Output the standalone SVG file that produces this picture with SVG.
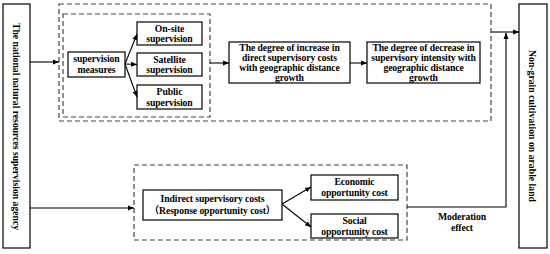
<svg xmlns="http://www.w3.org/2000/svg" width="550" height="254" viewBox="0 0 550 254">
<defs>
<marker id="ah" viewBox="0 0 6 6" refX="6" refY="3" markerWidth="6" markerHeight="6" markerUnits="userSpaceOnUse" orient="auto">
<path d="M0,0.5 L6,3 L0,5.5 Z" fill="#000"/>
</marker>
<style>
.box{fill:#fff;stroke:#000;stroke-width:1.2}
.dash{fill:none;stroke:#444;stroke-width:1.2;stroke-dasharray:5,3}
.ln{fill:none;stroke:#000;stroke-width:1.1;marker-end:url(#ah)}
text{font-family:"Liberation Serif","Noto Sans CJK SC",serif;font-weight:bold;font-size:9.7px;letter-spacing:-0.1px;fill:#000;text-anchor:middle}
.big{font-size:10px;letter-spacing:0}
</style>
</defs>
<rect width="550" height="254" fill="#fff"/>
<g id="containers">
<rect class="dash" x="59" y="4" width="432" height="117"/>
<rect class="dash" x="63" y="14" width="147" height="103"/>
<rect class="dash" x="134" y="165" width="273" height="75"/>
</g>
<g id="agency">
<rect class="box" x="3" y="4" width="27" height="244"/>
<text class="big" transform="translate(16.5,126.5) rotate(90)" dy="3.6" textLength="207" lengthAdjust="spacingAndGlyphs">The national natural resources supervision agency</text>
</g>
<g id="nongrain">
<rect class="box" x="519" y="4" width="28" height="244"/>
<text class="big" transform="translate(533,126) rotate(90)" dy="3.6" textLength="152" lengthAdjust="spacingAndGlyphs">Non-grain cultivation on arable land</text>
</g>
<g id="measures">
<rect class="box" x="68" y="52" width="57" height="25"/>
<text x="96.5" y="62">supervision</text>
<text x="96.5" y="73">measures</text>
</g>
<g id="onsite">
<rect class="box" x="137" y="22" width="65" height="23"/>
<text x="169.5" y="32">On-site</text>
<text x="169.5" y="42">supervision</text>
</g>
<g id="satellite">
<rect class="box" x="137" y="53" width="65" height="23"/>
<text x="169.5" y="63">Satellite</text>
<text x="169.5" y="73">supervision</text>
</g>
<g id="public">
<rect class="box" x="137" y="85" width="65" height="24"/>
<text x="169.5" y="95">Public</text>
<text x="169.5" y="106">supervision</text>
</g>
<g id="increase">
<rect class="box" x="229" y="42" width="121" height="41"/>
<text x="289.5" y="51">The degree of increase in</text>
<text x="289.5" y="61">direct supervisory costs</text>
<text x="289.5" y="71">with geographic distance</text>
<text x="289.5" y="81">growth</text>
</g>
<g id="decrease">
<rect class="box" x="367" y="42" width="113" height="41"/>
<text x="423.5" y="51">The degree of decrease in</text>
<text x="423.5" y="61">supervisory intensity with</text>
<text x="423.5" y="71">geographic distance</text>
<text x="423.5" y="81">growth</text>
</g>
<g id="indirect">
<rect class="box" x="143" y="190" width="139" height="30"/>
<text x="212.5" y="202">Indirect supervisory costs</text>
<text x="212.5" y="214">（Response opportunity cost）</text>
</g>
<g id="economic">
<rect class="box" x="311" y="175" width="87" height="25"/>
<text x="354.5" y="185">Economic</text>
<text x="354.5" y="196">opportunity cost</text>
</g>
<g id="social">
<rect class="box" x="311" y="214" width="87" height="24"/>
<text x="354.5" y="224">Social</text>
<text x="354.5" y="235">opportunity cost</text>
</g>
<g id="moderation-label">
<text x="462" y="220">Moderation</text>
<text x="462" y="231">effect</text>
</g>
<g id="connectors">
<line class="ln" x1="30" y1="62" x2="59" y2="62"/>
<line class="ln" x1="30" y1="208" x2="134" y2="208"/>
<line class="ln" x1="125" y1="64" x2="137" y2="34"/>
<line class="ln" x1="125" y1="64" x2="137" y2="64.5"/>
<line class="ln" x1="125" y1="64" x2="137" y2="97"/>
<line class="ln" x1="210" y1="63" x2="229" y2="63"/>
<line class="ln" x1="350" y1="63" x2="367" y2="63"/>
<line class="ln" x1="282" y1="204" x2="311" y2="187"/>
<line class="ln" x1="282" y1="204" x2="311" y2="227"/>
<line class="ln" x1="491" y1="32" x2="519" y2="32"/>
<polyline class="ln" points="407,207 506,207 506,33"/>
</g>
</svg>
